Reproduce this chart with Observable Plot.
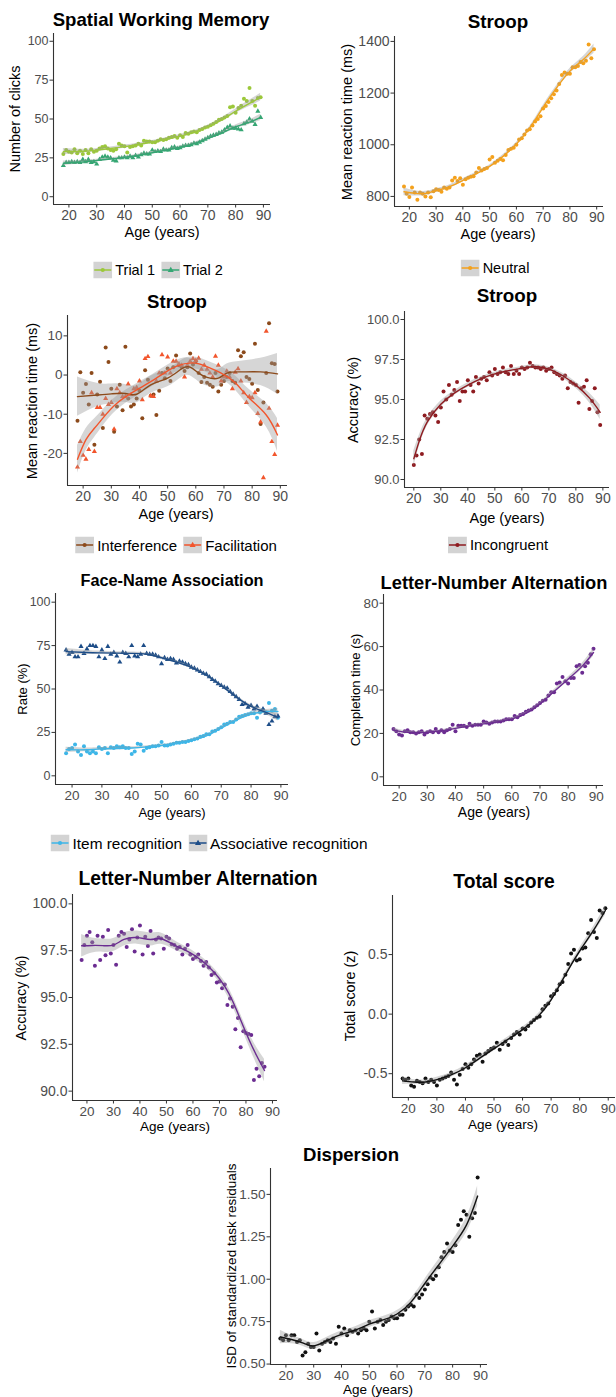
<!DOCTYPE html>
<html><head><meta charset="utf-8">
<script src="https://cdn.jsdelivr.net/npm/d3@7"></script>
<script src="https://cdn.jsdelivr.net/npm/@observablehq/plot@0.6"></script>
<style>
html,body{margin:0;padding:0;background:#fff;overflow:hidden;}
#root{position:relative;width:616px;height:1397px;font-family:"Liberation Sans",Arial,sans-serif;overflow:hidden;}
.abs{position:absolute;white-space:nowrap;transform:translate(-50%,-50%);line-height:1;color:#000;}
.title{font-weight:bold;}
.ylab{transform:translate(-50%,-50%) rotate(-90deg);}
.legend{display:flex;align-items:center;}
.legend .item{display:flex;align-items:center;margin:0 3px;}
.legend .item svg{margin-right:3px;}
</style></head>
<body><div id="root"></div>
<script>
// ---------------- DATA ----------------
const AGES = [18,19,20,21,22,23,24,25,26,27,28,29,30,31,32,33,34,35,36,37,38,39,40,41,42,43,44,45,46,47,48,49,50,51,52,53,54,55,56,57,58,59,60,61,62,63,64,65,66,67,68,69,70,71,72,73,74,75,76,77,78,79,80,81,82,83,84,85,86,87,88,89];
const AGES_20_89 = AGES.slice(2);
const AGES_18_87 = AGES.slice(0, 70);
const X_TICKS = [20,30,40,50,60,70,80,90];

// Spatial Working Memory (clicks)
const swmTrial1 = [27.5,30,29,28.5,30.5,28,29.5,27.5,30,28, 30.5,29,29.5,31,32,32.5,31,30,29.5,30.5, 34,33,32.5,28.5,32,32.5,33,34,33,36, 35.5,35.5,35,35,36,37,36.5,37,38,38.5, 39,38,39.5,38.5,41,40.5,41.5,42,41.5,43, 43.5,44.5,45,46,47,48,49.5,50,51,52, 57.5,58,54,57,58.5,63,61.5,70,61.5,58.5, 63.5,64];
const swmTrial2 = [20,22,22,22.5,22,22.5,22,24,22.5,24, 22,22.5,21,24,25.5,26,25.5,25,23.5,23, 25,25,25.5,25,26,25,26.5,25.5,27,28, 27.5,27.5,30,29,29.5,29,30.5,30,30,31.5, 32,31,31.5,32.5,33,33,33.5,34.5,34,35, 36,37,38,39,39.5,40,41,41.5,43,44.5, 45.5,44,44,43.5,43,47,48,50,48.5,46.5, 55,51];
const swmKnots = [18,25,30,35,40,45,50,55,60,65,70,75,80,85,89];
const swmFit1 = [29,29.3,30,31,32.2,33.6,35.2,37,39,41.5,45,49.5,55,60,64];
const swmSe1 = [2,1.2,1,1,1,1,1,1,1,1,1,1.2,1.5,2,2.5];
const swmFit2 = [21.5,22.3,23.3,24.3,25.3,26.7,28.3,30,31.8,34.2,37.5,41,45,48,51];
const swmSe2 = [1.5,1,0.8,0.8,0.8,0.8,0.8,0.8,0.8,0.8,0.8,1,1.2,1.5,2];

// Stroop neutral RT (ms)
const stroopNeutral = [838,810,798,835,815,787,815,810,800,815, 797,820,828,825,818,835,830,835,862,872, 860,870,845,866,872,876,878,893,910,900, 906,910,943,953,930,938,945,940,960,980, 985,988,1000,1020,1025,1040,1055,1060,1075,1090, 1100,1110,1140,1150,1165,1180,1195,1210,1235,1270, 1280,1275,1275,1300,1300,1305,1320,1315,1325,1388, 1335,1370];
const neutralKnots = [18,22,26,30,35,40,45,50,55,60,65,70,75,80,85,89];
const neutralFit = [818,812,812,822,838,862,888,916,955,1003,1065,1145,1220,1285,1330,1372];
const neutralSe = [15,10,8,7,6,6,6,6,6,6,6,7,8,10,12,18];

// Stroop interference / facilitation (ms)
const stroopInterference = [-11.7,0.7,-4.5,-2.3,-7.5,0.5,-17.8,-5,-1.7,-13.5, 7,3.3,-3.5,-14.5,-8,-2.5,-9,7.2,-6,-8, -7.5,-6,-4,-11,1.2,-1.2,-5.3,-5,-10.2,-4, 0.5,-0.8,1.7,-1.5,2,5,2.5,2,1,2, 5.5,2.7,3.5,0.5,-1.8,-0.5,-2,-2.5,-3,0.5, -4.2,-2.5,-1.5,-0.5,0.5,-1.5,-2,6.3,4.8,5.8, -0.5,-1,-2.2,8,-3.8,-12.5,-7,0.5,13.2,3, 2.8,-4.2];
const stroopFacilitation = [-23.5,-17,-20.5,-21.5,-19,-4.5,-19.5,-8.3,-8.3,-10, -6,-7.5,-7,-13.8,-3.5,-4.5,-5.5,-5.5,-2.3,-5, -3.5,-3.2,-1.5,-6.3,4.2,4.7,-5.3,-5.5,-1.5,0.5, 5.2,0.5,4.6,0.5,3.5,3.5,2.8,2.5,-0.5,2.5, 3.5,4.2,3.7,4.3,1.5,2.5,1.5,0.5,-0.5,4.8, 2.5,-1.5,-0.5,1,-0.5,-3.5,0.7,1.6,-1.5,-4.5, -7,-5.5,-5.8,-4.5,-9.8,-12,-26.2,11.2,-8.5,-17, -20.3,-12.8];
const interfKnots = [18,25,30,35,39,44,50,55,58,61,64,68,71,76,83,89];
const interfFit = [-5.5,-5.1,-4.8,-4.7,-4.9,-2.5,-0.8,1.6,2.0,0.5,-0.6,-0.8,0.5,0.8,0.8,0.3];
const interfSe = [5,3,2.5,2.3,2.2,2.2,2.2,2.2,2.2,2.2,2.2,2.2,2.3,2.7,3.5,5.2];
const facilKnots = [18,21,24,27,32,39,46,53,59,63,69,74,79,85,89];
const facilFit = [-21.5,-16.5,-13.6,-11,-7.2,-3.8,-0.8,2.2,3.1,2.4,0.5,-2,-5.9,-10.2,-15.3];
const facilSe = [3.5,2.8,2.4,2.1,1.8,1.6,1.5,1.5,1.5,1.5,1.6,1.8,2.2,3,4.2];

// Stroop incongruent accuracy (%)
const stroopIncongruent = [90.9,91.5,92.5,91.6,94.0,93.8,94.1,94.2,94.0,93.6, 94.5,95.5,95.0,95.9,95.3,95.6,96.1,94.9,95.5,95.5, 96.2,95.9,95.5,96.4,96.0,96.3,96.4,96.2,96.7,96.5, 96.9,96.6,96.7,97.0,96.7,96.6,97.1,96.6,96.8,96.6, 97.0,96.9,97.0,97.3,97.1,97.0,97.0,96.9,97.0,96.8, 96.9,97.0,96.7,96.6,96.5,96.3,96.5,95.7,96.1,96.0, 95.9,94.8,95.7,95.8,96.2,94.4,94.9,95.7,94.2,93.4];
const incongKnots = [20,22,25,30,35,40,45,50,55,60,65,70,75,80,85,89];
const incongFit = [91.3,92.4,93.6,94.7,95.4,95.9,96.3,96.6,96.8,96.95,97.05,96.9,96.5,95.9,95.1,94.2];
const incongSe = [0.5,0.35,0.25,0.2,0.15,0.15,0.12,0.12,0.12,0.12,0.12,0.12,0.15,0.2,0.3,0.45];

// Face-Name Association (%)
const faceItem = [13,15.5,16,18,14,12,17,14,13,14, 13,16.5,15.5,16,13,16.5,16,17,16.5,17, 16,16,12.5,14,18.5,18,14.5,16,16.5,17, 17,17.5,19.5,17.5,17.5,18,18.5,19,19,19.5, 19.5,20,20.5,21,21.5,22.5,23,24,24,25.5, 26,27,28,29.5,30,31,31,32.5,34,34.5, 35,35.5,36,36,33.5,36.5,38,36.5,42,37.5, 38.5,33.5];
const faceAssoc = [72.5,70,71,68.5,68.5,74.5,70.5,73,75,75, 74.5,68.5,72.5,67.5,74.5,70,71,69,65.5,71, 70.5,68.5,75,69,68.5,70,75,70.5,70,70, 69.5,68.5,64.5,68,67,67.5,67,65,66,65.5, 64.5,64,62.5,62,61,60,59,58.5,57,55.5, 54.5,53,52,51,50.5,48.5,47,45.5,44,41, 41.5,39.5,40.5,38.5,40,37,38.5,36,29.5,31.5, 34,34.5];
const faceKnots = [18,25,30,40,45,50,55,60,65,70,75,80,85,89];
const faceItemFit = [15,15,15.5,16,16.7,17.5,18.8,20.5,23,27.5,32,35.5,37,37];
const faceItemSe = [1.5,1,0.8,0.7,0.6,0.6,0.6,0.6,0.6,0.6,0.7,0.9,1.2,1.8];
const faceAssocFit = [71.5,71,70.8,70.5,70,68,65.5,62.5,58,52,45.5,40,36.5,33.5];
const faceAssocSe = [1.8,1.2,1,0.8,0.7,0.7,0.7,0.7,0.7,0.7,0.8,1,1.4,2];

// Letter-Number Alternation completion time (s)
const lnaTime = [22,21,19.5,19,21,21.5,20.5,20.5,20,20.5, 21,19.5,20.5,21,20.5,22,20.5,21.5,20.5,21.5, 22,24,21,23.5,23.5,23.5,23,24.5,23.5,24, 24,24,25.5,25,24.5,25,25.5,25.5,25.5,26, 26.5,26.5,26.5,28,27.5,28.5,29,30,30.5,31, 32,33,34,35,35.5,37.5,39,39,43,43.5, 46,44,43,45.5,45.5,51,51.5,48,51,52.5, 56.5,59];
const lnaTimeKnots = [18,22,26,30,35,40,45,50,55,60,65,70,75,80,85,89];
const lnaTimeFit = [21.5,20.6,20.3,20.5,21.2,22.3,23.4,24.4,25.3,26.6,29.2,33.6,39.3,45,51,57.3];
const lnaTimeSe = [1,0.6,0.5,0.5,0.5,0.5,0.5,0.5,0.5,0.5,0.5,0.6,0.8,1,1.3,1.8];

// Letter-Number Alternation accuracy (%)
const lnaAcc = [97.0,97.8,98.3,98.5,97.95,96.7,98.3,97.0,98.25,97.25, 98.6,97.35,97.8,96.75,98.3,98.5,98.4,97.7,98.1,98.65, 97.45,98.2,98.85,97.3,98.25,97.75,98.55,97.35,98.1,98.2, 98.15,97.6,98.25,98.15,97.85,97.8,97.6,97.7,97.3,97.6, 97.8,97.3,97.05,97.15,97.3,96.95,96.7,96.9,96.6,96.2, 96.3,95.8,95.85,95.5,95.7,94.6,94.95,94.5,93.3,93.9, 92.35,93.2,93.1,93.05,93.0,90.6,91.2,90.8,91.5,91.3];
const lnaAccKnots = [18,22,26,30,34,39,44,48,53,58,63,68,72,75,78,81,84,87];
const lnaAccFit = [97.76,97.78,97.77,97.8,98.1,98.2,98.1,98.14,97.8,97.46,97.0,96.35,95.6,94.8,93.8,92.8,91.9,91.1];
const lnaAccSe = [0.6,0.4,0.35,0.35,0.35,0.35,0.35,0.3,0.25,0.2,0.2,0.2,0.25,0.28,0.3,0.35,0.45,0.6];

// Total score (z)
const totalScore = [-0.54,-0.55,-0.54,-0.60,-0.61,-0.56,-0.57,-0.58,-0.54,-0.57, -0.55,-0.57,-0.60,-0.55,-0.54,-0.53,-0.52,-0.49,-0.55,-0.59, -0.51,-0.46,-0.42,-0.45,-0.42,-0.38,-0.35,-0.34,-0.40,-0.33, -0.31,-0.29,-0.28,-0.24,-0.30,-0.25,-0.23,-0.26,-0.20,-0.17, -0.15,-0.17,-0.12,-0.13,-0.10,-0.07,-0.05,-0.03,-0.02,0.04, 0.07,0.09,0.15,0.17,0.20,0.25,0.27,0.33,0.42,0.51, 0.54,0.45,0.46,0.55,0.56,0.68,0.79,0.69,0.64,0.87, 0.85,0.89];
const totalKnots = [18,22,26,30,35,40,45,50,55,60,65,70,75,80,85,89];
const totalFit = [-0.56,-0.57,-0.57,-0.55,-0.51,-0.45,-0.37,-0.29,-0.21,-0.13,-0.03,0.12,0.33,0.53,0.71,0.87];
const totalSe = [0.03,0.02,0.02,0.02,0.02,0.02,0.02,0.02,0.02,0.02,0.02,0.02,0.02,0.025,0.03,0.04];

// Dispersion (ISD)
const dispersion = [0.65,0.64,0.67,0.64,0.67,0.67,0.63,0.64,0.55,0.57, 0.62,0.60,0.60,0.68,0.58,0.62,0.63,0.64,0.63,0.65, 0.62,0.72,0.68,0.71,0.67,0.70,0.69,0.70,0.68,0.70, 0.71,0.70,0.75,0.81,0.71,0.75,0.76,0.73,0.75,0.76, 0.78,0.77,0.77,0.79,0.79,0.82,0.84,0.85,0.84,0.91, 0.89,0.91,0.94,0.97,1.01,1.00,1.02,1.07,1.13,1.16, 1.21,1.17,1.16,1.20,1.32,1.35,1.40,1.38,1.25,1.36, 1.39,1.60];
const dispKnots = [18,22,26,30,35,40,45,50,55,60,65,70,75,80,85,89];
const dispFit = [0.66,0.645,0.625,0.607,0.64,0.675,0.70,0.735,0.76,0.795,0.865,0.975,1.085,1.195,1.32,1.49];
const dispSe = [0.04,0.025,0.02,0.02,0.02,0.02,0.02,0.02,0.02,0.02,0.02,0.025,0.03,0.035,0.045,0.06];

// ---------------- STYLE ----------------
const C = {
  trial1:"#9CC83A", trial2:"#35A673", neutral:"#F4A11C", interf:"#8C4A1B", facil:"#F2552C",
  incong:"#8E1B20", item:"#3DB6E8", assoc:"#1D4D88", purple:"#6B2C91", black:"#111111"
};
const FONT = '"Liberation Sans", Arial, sans-serif';
const root = document.getElementById("root");

function renderPanel(p) {
  const [bx0, by0, bx1, by1] = p.box;
  const mL = 52, mR = 1, mT = 4, mB = 26;
  const width = (bx1 - bx0) + mL + mR, height = (by1 - by0) + mT + mB;
  const marks = [];
  for (const s of p.series) {
    marks.push(Plot.dot(s.values, {x: s.ages, y: s.values, symbol: s.symbol,
      r: s.symbol === "triangle" ? 1.9 : 2.0, fill: s.color, stroke: "none"}));
  }
  for (const s of p.series) {
    marks.push(Plot.areaY(s.knots, {x: s.knots, y1: s.fit.map((v,i)=>v - s.se[i]),
      y2: s.fit.map((v,i)=>v + s.se[i]), fill: "#999999", fillOpacity: 0.4, curve: "natural"}));
  }
  for (const s of p.series) {
    marks.push(Plot.line(s.fit, {x: s.knots, y: s.fit, stroke: s.color, strokeWidth: 1.4, curve: "natural"}));
  }
  marks.push(Plot.ruleX([p.xDomain[0]], {stroke: "#333", strokeWidth: 1.1}));
  marks.push(Plot.ruleY([p.yDomain[0]], {stroke: "#333", strokeWidth: 1.1}));
  marks.push(Plot.axisX({ticks: X_TICKS, tickSize: 3.5, tickPadding: 2.5, fontSize: p.xtick, label: null, stroke: "#333"}));
  marks.push(Plot.axisY({ticks: p.yTicks, tickFormat: p.yFmt, tickSize: 3.5, tickPadding: 1.5, fontSize: p.ytick, label: null, stroke: "#333"}));
  const svg = Plot.plot({
    width, height, marginLeft: mL, marginRight: mR, marginTop: mT, marginBottom: mB,
    x: {domain: p.xDomain, label: null}, y: {domain: p.yDomain, label: null},
    style: {fontFamily: FONT, color: "#4d4d4d", background: "transparent", overflow: "visible"},
    marks
  });
  svg.style.position = "absolute";
  svg.style.left = (bx0 - mL) + "px";
  svg.style.top = (by0 - mT) + "px";
  root.appendChild(svg);

  addText(p.title, p.titlePos, "abs title");
  addText("Age (years)", p.xlabPos, "abs");
  addText(p.ylab, p.ylabPos, "abs ylab");
  if (p.legend) addLegend(p.series, p.legend);
}

function addText(txt, [x, y, size], cls) {
  const d = document.createElement("div");
  d.className = cls;
  d.textContent = txt;
  d.style.left = x + "px"; d.style.top = y + "px"; d.style.fontSize = size + "px";
  root.appendChild(d);
}

function keySvg(color, symbol) {
  const sym = symbol === "triangle"
    ? `<path d="${d3.symbol(d3.symbolTriangle, 16)()}" transform="translate(9.5,8.8)" fill="${color}"/>`
    : `<circle cx="9.5" cy="8.5" r="2.1" fill="${color}"/>`;
  return `<svg width="19" height="17"><rect width="19" height="17" fill="#d3d3d3"/>` +
    `<line x1="1" x2="18" y1="8.5" y2="8.5" stroke="${color}" stroke-width="1.4"/>${sym}</svg>`;
}

function addLegend(series, [x, y, size]) {
  const d = document.createElement("div");
  d.className = "abs legend";
  d.style.left = x + "px"; d.style.top = y + "px"; d.style.fontSize = size + "px";
  d.innerHTML = series.map(s => `<span class="item">${keySvg(s.color, s.symbol)}<span>${s.label}</span></span>`).join("");
  root.appendChild(d);
}

const XD = [14.45, 92.55];
const f0 = d => String(d), f1 = d => d.toFixed(1), f2 = d => d.toFixed(2);

const panels = [
  {title: "Spatial Working Memory", ylab: "Number of clicks", box: [53,33,270,204], xDomain: XD, yDomain: [-5,105],
   yTicks: [0,25,50,75,100], yFmt: f0, xtick: 14, ytick: 12.5,
   titlePos: [161,20,18.6], xlabPos: [162,232,14.5], ylabPos: [15,119,14.5], legend: [158,270,14.5],
   series: [
     {label: "Trial 1", color: C.trial1, symbol: "circle", ages: AGES, values: swmTrial1, knots: swmKnots, fit: swmFit1, se: swmSe1},
     {label: "Trial 2", color: C.trial2, symbol: "triangle", ages: AGES, values: swmTrial2, knots: swmKnots, fit: swmFit2, se: swmSe2}]},
  {title: "Stroop", ylab: "Mean reaction time (ms)", box: [394,36,603,206], xDomain: XD, yDomain: [761,1419],
   yTicks: [800,1000,1200,1400], yFmt: f0, xtick: 14, ytick: 14,
   titlePos: [498,22,18.8], xlabPos: [498,234,14.5], ylabPos: [347,122,14.5], legend: [495,268,14.5],
   series: [{label: "Neutral", color: C.neutral, symbol: "circle", ages: AGES, values: stroopNeutral, knots: neutralKnots, fit: neutralFit, se: neutralSe}]},
  {title: "Stroop", ylab: "Mean reaction time (ms)", box: [67,315,287,485], xDomain: XD, yDomain: [-28.2,15.2],
   yTicks: [-20,-10,0,10], yFmt: f0, xtick: 14, ytick: 13.5,
   titlePos: [177,302,18.6], xlabPos: [176,514,14.5], ylabPos: [32,401,14.5], legend: [176,545,15],
   series: [
     {label: "Interference", color: C.interf, symbol: "circle", ages: AGES, values: stroopInterference, knots: interfKnots, fit: interfFit, se: interfSe},
     {label: "Facilitation", color: C.facil, symbol: "triangle", ages: AGES, values: stroopFacilitation, knots: facilKnots, fit: facilFit, se: facilSe}]},
  {title: "Stroop", ylab: "Accuracy (%)", box: [404,311,609,487], xDomain: [16.55,92.45], yDomain: [89.5,100.5],
   yTicks: [90,92.5,95,97.5,100], yFmt: f1, xtick: 14, ytick: 13,
   titlePos: [507,296,18.8], xlabPos: [507,518,14.5], ylabPos: [353,400,14.5], legend: [498,545,14.8],
   series: [{label: "Incongruent", color: C.incong, symbol: "circle", ages: AGES_20_89, values: stroopIncongruent, knots: incongKnots, fit: incongFit, se: incongSe}]},
  {title: "Face-Name Association", ylab: "Rate (%)", box: [55,593,288,784], xDomain: XD, yDomain: [-5,105],
   yTicks: [0,25,50,75,100], yFmt: f0, xtick: 13.5, ytick: 12.5,
   titlePos: [172,580,16.3], xlabPos: [172,812,13], ylabPos: [22,689,13], legend: [209,843,15.4],
   series: [
     {label: "Item recognition", color: C.item, symbol: "circle", ages: AGES, values: faceItem, knots: faceKnots, fit: faceItemFit, se: faceItemSe},
     {label: "Associative recognition", color: C.assoc, symbol: "triangle", ages: AGES, values: faceAssoc, knots: faceKnots, fit: faceAssocFit, se: faceAssocSe}]},
  {title: "Letter-Number Alternation", ylab: "Completion time (s)", box: [383,594,603,785], xDomain: XD, yDomain: [-4,84],
   yTicks: [0,20,40,60,80], yFmt: f0, xtick: 13.5, ytick: 13.5,
   titlePos: [494,583,18.3], xlabPos: [494,812,14], ylabPos: [355,690,13],
   series: [{label: "", color: C.purple, symbol: "circle", ages: AGES, values: lnaTime, knots: lnaTimeKnots, fit: lnaTimeFit, se: lnaTimeSe}]},
  {title: "Letter-Number Alternation", ylab: "Accuracy (%)", box: [72,894,277,1100], xDomain: [14.55,91.9], yDomain: [89.5,100.5],
   yTicks: [90,92.5,95,97.5,100], yFmt: f1, xtick: 13.5, ytick: 14,
   titlePos: [198,879,19.3], xlabPos: [175,1127,13.5], ylabPos: [21,998,14.3],
   series: [{label: "", color: C.purple, symbol: "circle", ages: AGES_18_87, values: lnaAcc, knots: lnaAccKnots, fit: lnaAccFit, se: lnaAccSe}]},
  {title: "Total score", ylab: "Total score (z)", box: [392,895,615,1097], xDomain: XD, yDomain: [-0.70,0.996],
   yTicks: [-0.5,0,0.5], yFmt: f1, xtick: 13.5, ytick: 14,
   titlePos: [504,882,19.3], xlabPos: [503,1125,13.5], ylabPos: [350,996,14.4],
   series: [{label: "", color: C.black, symbol: "circle", ages: AGES, values: totalScore, knots: totalKnots, fit: totalFit, se: totalSe}]},
  {title: "Dispersion", ylab: "ISD of standardized task residuals", box: [270,1168,487,1364], xDomain: XD, yDomain: [0.4975,1.6525],
   yTicks: [0.5,0.75,1,1.25,1.5], yFmt: f2, xtick: 13.5, ytick: 13.5,
   titlePos: [351,1155,18.6], xlabPos: [378,1390,13.5], ylabPos: [232,1266,13.5],
   series: [{label: "", color: C.black, symbol: "circle", ages: AGES, values: dispersion, knots: dispKnots, fit: dispFit, se: dispSe}]}
];

panels.forEach(renderPanel);
</script>
</body></html>
